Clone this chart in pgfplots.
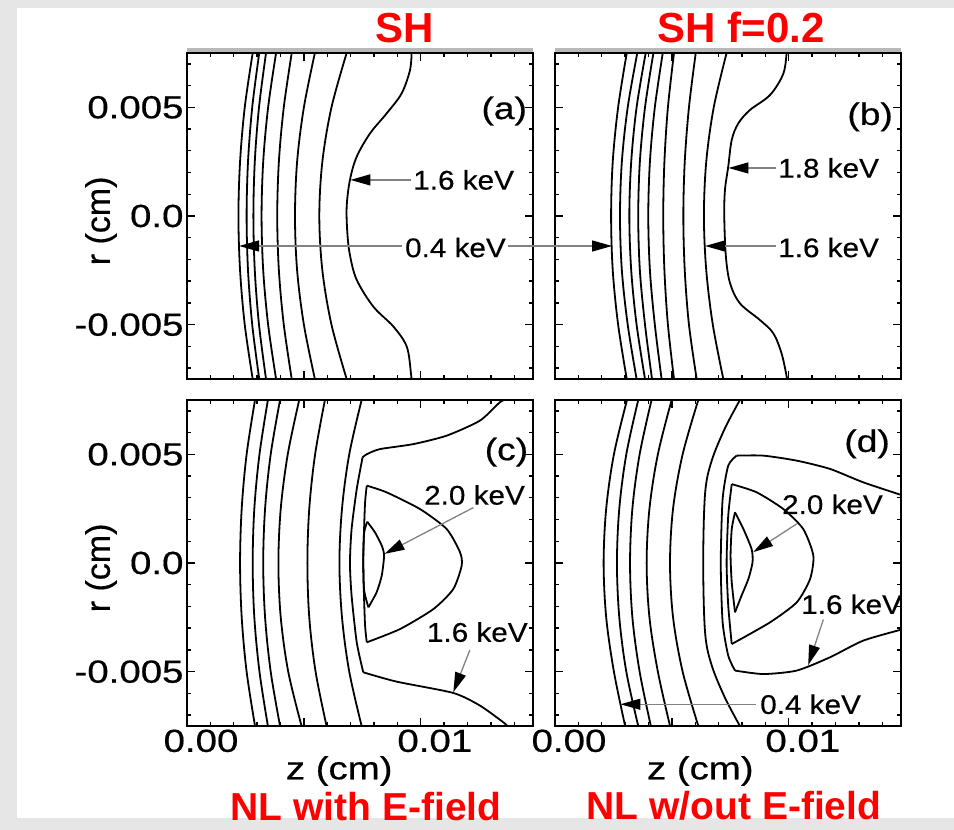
\documentclass[border=0pt]{standalone}
\usepackage{fontspec}
\setmainfont{Liberation Sans}
\newfontfamily\widesans{Liberation Sans}[FakeStretch=1.2,FakeBold=0.5]
\newfontfamily\midsans{Liberation Sans}[FakeStretch=1.1,FakeBold=0.4]
\newfontfamily\heavysans{Liberation Sans}[FakeBold=0.5]
\usepackage{pgfplots}
\pgfplotsset{compat=1.18}
\usetikzlibrary{arrows.meta}
\definecolor{bggray}{RGB}{230,230,230}
\definecolor{arrgray}{RGB}{130,130,130}
\definecolor{titlered}{RGB}{255,0,0}
\pgfplotsset{
  panel/.style={
    scale only axis, width=346pt, height=326pt,
    xmin=0, xmax=14.8, ymin=-7.5, ymax=7.5,
    axis line style={line width=1.8pt},
    xtick={0,5,10}, ytick={-5,0,5},
    minor xtick={1,2,3,4,6,7,8,9,11,12,13,14},
    minor ytick={-7,-6,-4,-3,-2,-1,1,2,3,4,6,7},
    tick align=inside,
    major tick length=8pt, minor tick length=4pt,
    tick style={black, line width=1.4pt},
    xticklabels={}, yticklabels={},
    clip mode=individual,
    tick label style={font=\widesans\fontsize{32}{32}\selectfont},
    label style={font=\widesans\fontsize{32}{32}\selectfont},
  },
  cline/.style={black, line width=1.8pt, smooth, tension=0.55, no markers},
  kline/.style={black, line width=1.8pt, smooth, tension=0.4, no markers},
  xlab/.style={xticklabels={0.00,,0.01}, xticklabel style={xshift=14pt},
    xlabel={z (cm)}, xlabel style={at={(axis description cs:#1,0)}, anchor=center, yshift=-45pt}},
  ylab/.style={yticklabels={-0.005,0.0,0.005}, ylabel={r (cm)},
    ylabel style={at={(axis description cs:-0.2486,0.485)}, anchor=center, font=\heavysans\fontsize{34}{34}\selectfont}},
}
\tikzset{
  garr/.style={draw=arrgray, line width=1.3pt, -{Triangle[length=20pt,width=11pt,color=black]}},
  gline/.style={draw=arrgray, line width=1.3pt},
  clab/.style={inner sep=0pt, font=\midsans\fontsize{27}{27}\selectfont},
  plab/.style={inner sep=0pt, font=\widesans\fontsize{31}{31}\selectfont},
  ttl/.style={anchor=base, inner sep=0pt, text=titlered, font=\bfseries\fontsize{42}{42}\selectfont},
  ttlb/.style={anchor=base, inner sep=0pt, text=titlered, font=\bfseries\fontsize{39}{39}\selectfont},
}
\begin{document}
\begin{tikzpicture}
\useasboundingbox (0,0) rectangle (954pt,830pt);
\clip (0,0) rectangle (954pt,830pt);
\fill[bggray] (0,0) rectangle (954pt,830pt);
\fill[white] (17pt,12pt) rectangle (954pt,822pt);
\fill[gray!55] (187pt,777pt) rectangle (533pt,782pt);
\fill[gray!55] (555pt,777pt) rectangle (901pt,782pt);

% ---------------- (a) SH ----------------
\begin{axis}[panel, ylab, at={(187pt,451pt)}, anchor=south west]
\addplot[cline] coordinates {(2.81,7.5)(2.47,5)(2.27,2.5)(2.20,0)(2.27,-2.5)(2.47,-5)(2.81,-7.5)};
\addplot[cline] coordinates {(3.09,7.5)(2.79,5)(2.61,2.5)(2.55,0)(2.61,-2.5)(2.79,-5)(3.09,-7.5)};
\addplot[cline] coordinates {(3.38,7.5)(3.08,5)(2.90,2.5)(2.84,0)(2.90,-2.5)(3.08,-5)(3.38,-7.5)};
\addplot[cline] coordinates {(3.81,7.5)(3.47,5)(3.26,2.5)(3.19,0)(3.26,-2.5)(3.47,-5)(3.81,-7.5)};
\addplot[cline] coordinates {(4.48,7.5)(4.14,5)(3.93,2.5)(3.86,0)(3.93,-2.5)(4.14,-5)(4.48,-7.5)};
\addplot[cline] coordinates {(5.47,7.5)(5.00,5)(4.71,2.5)(4.62,0)(4.71,-2.5)(5.00,-5)(5.47,-7.5)};
\addplot[cline] coordinates {(6.83,7.5)(6.18,5)(5.79,2.5)(5.66,0)(5.79,-2.5)(6.18,-5)(6.83,-7.5)};
\addplot[cline] coordinates {(9.61,7.6)(9.54,6.72)(9.18,5.64)(8.54,4.72)(7.83,3.80)(7.26,2.73)(6.97,1.66)(6.83,0.43)(6.86,-0.8)(6.97,-1.8)(7.26,-2.94)(7.97,-4.17)(8.83,-5.09)(9.40,-6.01)(9.58,-7.24)(9.60,-7.6)};
\node[clab,anchor=west] at (axis cs:9.67,1.66) {1.6 keV};
\draw[garr] (axis cs:9.6,1.66) -- (axis cs:6.99,1.66);
\node[clab,anchor=west] at (axis cs:9.32,-1.45) {0.4 keV};
\draw[garr] (axis cs:9.2,-1.38) -- (axis cs:2.23,-1.38);
\draw[gline] (axis cs:13.75,-1.38) -- (axis cs:14.8,-1.38);
\node[plab,anchor=east] at (axis cs:14.55,4.83) {(a)};
\end{axis}

% ---------------- (b) SH f=0.2 ----------------
\begin{axis}[panel, at={(555pt,451pt)}, anchor=south west]
\addplot[cline] coordinates {(3.07,7.5)(2.70,5)(2.47,2.5)(2.40,0)(2.47,-2.5)(2.70,-5)(3.07,-7.5)};
\addplot[cline] coordinates {(3.52,7.5)(3.11,5)(2.86,2.5)(2.78,0)(2.86,-2.5)(3.11,-5)(3.49,-7.5)};
\addplot[cline] coordinates {(3.88,7.5)(3.49,5)(3.26,2.5)(3.18,0)(3.26,-2.5)(3.49,-5)(3.85,-7.5)};
\addplot[cline] coordinates {(4.21,7.5)(3.85,5)(3.63,2.5)(3.56,0)(3.63,-2.5)(3.85,-5)(4.15,-7.5)};
\addplot[cline] coordinates {(4.61,7.5)(4.27,5)(4.06,2.5)(3.99,0)(4.06,-2.5)(4.27,-5)(4.56,-7.5)};
\addplot[cline] coordinates {(5.09,7.5)(4.83,5)(4.68,2.5)(4.63,0)(4.68,-2.5)(4.83,-5)(5.09,-7.5)};
\addplot[cline] coordinates {(6.02,7.5)(5.73,5)(5.55,2.5)(5.49,0)(5.55,-2.5)(5.73,-5)(6.06,-7.5)};
\addplot[cline] coordinates {(7.34,7.5)(6.79,5)(6.47,2.5)(6.37,0)(6.47,-2.5)(6.75,-5)(7.20,-7.5)};
\addplot[cline] coordinates {(9.91,7.6)(9.77,6.56)(9.20,5.57)(8.34,4.88)(7.84,4.26)(7.56,3.50)(7.41,2.27)(7.27,1.20)(7.24,0)(7.31,-1.87)(7.49,-3.10)(7.91,-4.02)(8.77,-4.79)(9.34,-5.40)(9.69,-6.32)(9.91,-7.39)(9.93,-7.6)};
\node[clab,anchor=west] at (axis cs:9.54,2.21) {1.8 keV};
\draw[garr] (axis cs:9.45,2.21) -- (axis cs:7.42,2.21);
\node[clab,anchor=west] at (axis cs:9.54,-1.45) {1.6 keV};
\draw[garr] (axis cs:9.45,-1.38) -- (axis cs:6.42,-1.38);
\draw[garr] (axis cs:-1.0,-1.38) -- (axis cs:2.44,-1.38);
\node[plab,anchor=east] at (axis cs:14.46,4.56) {(b)};
\end{axis}

% ---------------- (c) NL with E-field ----------------
\begin{axis}[panel, ylab, xlab=0.44, at={(187pt,104pt)}, anchor=south west]
\addplot[cline] coordinates {(2.91,7.5)(2.55,5)(2.34,2.5)(2.27,0)(2.34,-2.5)(2.55,-5)(2.91,-7.5)};
\addplot[cline] coordinates {(3.46,7.5)(3.10,5)(2.88,2.5)(2.81,0)(2.88,-2.5)(3.10,-5)(3.46,-7.5)};
\addplot[cline] coordinates {(3.98,7.5)(3.58,5)(3.34,2.5)(3.26,0)(3.34,-2.5)(3.58,-5)(3.98,-7.5)};
\addplot[cline] coordinates {(4.80,7.5)(4.31,5)(4.01,2.5)(3.91,0)(4.01,-2.5)(4.33,-5)(4.90,-7.5)};
\addplot[cline] coordinates {(5.90,7.5)(5.48,5)(5.23,2.5)(5.15,0)(5.23,-2.5)(5.50,-5)(5.97,-7.5)};
\addplot[cline] coordinates {(7.47,7.5)(6.94,5)(6.63,2.5)(6.52,0)(6.63,-2.5)(6.94,-5)(7.47,-7.5)};
% 1.6 keV outer contour
\addplot[kline] coordinates {(13.80,7.6)(13.39,7.4)(12.53,6.55)(11.11,5.86)(9.68,5.47)(8.25,5.24)(7.68,5.0)(7.51,4.86)};
\addplot[kline] coordinates {(7.51,4.86)(7.26,3.40)(7.04,1.56)(6.97,0)(7.04,-1.50)(7.26,-3.65)(7.54,-5.03)};
\addplot[kline] coordinates {(7.54,-5.03)(8.97,-5.46)(11.39,-5.98)(12.53,-6.56)(13.53,-7.33)(13.80,-7.6)};
% 1.8 keV
\addplot[kline] coordinates {(7.69,3.56)(8.54,3.25)(9.97,2.48)(11.11,1.56)(11.68,0.49)(11.75,-0.12)(11.39,-1.20)(10.54,-2.12)(9.11,-3.04)(7.69,-3.65)};
\addplot[kline] coordinates {(7.69,-3.65)(7.61,-2.73)(7.54,0)(7.61,2.64)(7.69,3.56)};
% 2.0 keV
\addplot[kline] coordinates {(7.71,1.90)(8.04,1.41)(8.33,0.80)(8.43,0.34)(8.33,-0.58)(8.11,-1.35)(7.76,-2.04)};
\addplot[kline] coordinates {(7.76,-2.04)(7.57,-1.20)(7.54,0.34)(7.58,1.41)(7.71,1.90)};
\node[clab,anchor=east] at (axis cs:14.46,3.13) {2.0 keV};
\draw[garr] (axis cs:12.25,2.55) -- (axis cs:8.45,0.42);
\node[clab,anchor=east] at (axis cs:14.58,-3.18) {1.6 keV};
\draw[garr] (axis cs:12.1,-4.0) -- (axis cs:11.39,-5.95);
\node[plab,anchor=east] at (axis cs:14.6,5.1) {(c)};
\end{axis}

% ---------------- (d) NL w/out E-field ----------------
\begin{axis}[panel, xlab=0.42, at={(555pt,104pt)}, anchor=south west]
\addplot[cline] coordinates {(3.08,7.5)(2.52,5)(2.19,2.5)(2.08,0)(2.19,-2.5)(2.52,-5)(3.00,-7.5)};
\addplot[cline] coordinates {(3.56,7.5)(3.05,5)(2.75,2.5)(2.65,0)(2.75,-2.5)(3.05,-5)(3.56,-7.5)};
\addplot[cline] coordinates {(4.13,7.5)(3.62,5)(3.31,2.5)(3.21,0)(3.31,-2.5)(3.62,-5)(4.10,-7.5)};
\addplot[cline] coordinates {(4.99,7.5)(4.40,5)(4.04,2.5)(3.92,0)(4.04,-2.5)(4.40,-5)(4.92,-7.5)};
\addplot[cline] coordinates {(6.13,7.5)(5.46,5)(5.05,2.5)(4.92,0)(5.05,-2.5)(5.46,-5)(6.13,-7.5)};
\addplot[cline] coordinates {(7.91,7.5)(7.27,6.2)(6.70,4.7)(6.42,3.2)(6.34,0)(6.42,-3.2)(6.70,-4.7)(7.27,-6.2)(7.91,-7.5)};
% 1.6 keV outer contour
\addplot[kline] coordinates {(14.9,3.10)(13.19,3.71)(11.76,4.33)(10.34,4.71)(8.91,4.94)(7.77,4.94)};
\addplot[kline] coordinates {(7.77,4.94)(7.41,4.48)(7.17,2.94)(7.09,0)(7.17,-2.73)(7.41,-4.26)(7.70,-4.95)};
\addplot[kline] coordinates {(7.70,-4.95)(8.91,-5.11)(10.34,-4.95)(11.76,-4.34)(13.19,-3.57)(14.9,-3.04)};
% 1.8 keV
\addplot[kline] coordinates {(7.56,3.63)(8.63,3.25)(9.77,2.48)(10.62,1.56)(11.05,0.34)(10.91,-0.74)(10.34,-1.81)(9.20,-2.73)(7.56,-3.73)};
\addplot[kline] coordinates {(7.56,-3.73)(7.41,-1.96)(7.34,0)(7.41,2.18)(7.56,3.63)};
% 2.0 keV
\addplot[kline] coordinates {(7.70,2.33)(8.06,1.56)(8.41,0.64)(8.45,0.03)(8.27,-0.74)(7.98,-1.50)(7.70,-2.27)};
\addplot[kline] coordinates {(7.70,-2.27)(7.56,-0.89)(7.51,0.34)(7.56,1.56)(7.70,2.33)};
\node[clab,anchor=east] at (axis cs:14.03,2.7) {2.0 keV};
\draw[garr] (axis cs:10.34,1.8) -- (axis cs:8.48,0.5);
\node[clab,anchor=east] at (axis cs:14.85,-1.9) {1.6 keV};
\draw[garr] (axis cs:11.48,-2.6) -- (axis cs:10.83,-4.7);
\node[clab,anchor=west] at (axis cs:8.77,-6.5) {0.4 keV};
\draw[garr] (axis cs:8.6,-6.5) -- (axis cs:2.80,-6.5);
\node[plab,anchor=east] at (axis cs:14.33,5.48) {(d)};
\end{axis}

\node[ttl] at (405pt,787pt) {SH};
\node[ttl] at (741pt,787pt) {SH f=0.2};
\node[ttlb] at (366pt,9pt) {NL with E-field};
\node[ttlb] at (734pt,10pt) {NL w/out E-field};
\end{tikzpicture}
\end{document}
